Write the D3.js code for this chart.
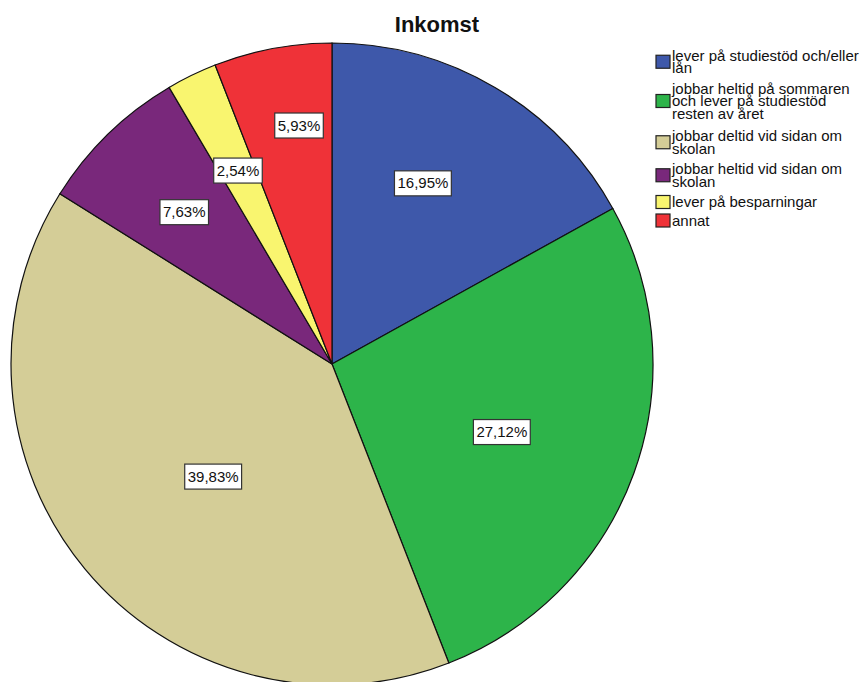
<!DOCTYPE html>
<html>
<head>
<meta charset="utf-8">
<script src="https://cdn.jsdelivr.net/npm/d3@7"></script>
<style>
  body { margin: 0; background: #fff; }
  text { font-family: Arial, "Liberation Sans", sans-serif; }
</style>
</head>
<body>
<script>
// data (clockwise from 12 o'clock)
var categories = [
  ["lever på studiestöd och/eller", "lån"],
  ["jobbar heltid på sommaren", "och lever på studiestöd", "resten av året"],
  ["jobbar deltid vid sidan om", "skolan"],
  ["jobbar heltid vid sidan om", "skolan"],
  ["lever på besparningar"],
  ["annat"]
];
var percents = [16.95, 27.12, 39.83, 7.63, 2.54, 5.93];
var colors = ["#3E58AA", "#2DB44A", "#D4CD97", "#79287B", "#F9F56F", "#EF3238"];
var title = "Inkomst";

// label placement: share of radius and angle nudge in degrees (layout only)
var labelRadius = [0.63, 0.57, 0.51, 0.66, 0.67, 0.75];
var labelNudge = [-3.8, 2, -3.8, 0, 0, 2.8];

var width = 863, height = 682;
var cx = 332, cy = 364, r = 321;

var svg = d3.select("body").append("svg")
    .attr("width", width)
    .attr("height", height);

svg.append("text")
    .attr("x", 437)
    .attr("y", 32)
    .attr("text-anchor", "middle")
    .attr("font-size", "22px")
    .attr("font-weight", "bold")
    .attr("fill", "#111")
    .text(title);

var pie = d3.pie().sort(null).value(function(d) { return d; });
var arcs = pie(percents);

var arc = d3.arc().innerRadius(0).outerRadius(r);

var g = svg.append("g").attr("transform", "translate(" + cx + "," + cy + ")");

g.selectAll("path")
  .data(arcs)
  .enter()
  .append("path")
  .attr("d", arc)
  .attr("fill", function(d, i) { return colors[i]; })
  .attr("stroke", "#111")
  .attr("stroke-width", 1.2);

// percent labels
var labels = g.selectAll("g.lbl")
  .data(arcs)
  .enter()
  .append("g")
  .attr("class", "lbl")
  .attr("transform", function(d, i) {
    var a = (d.startAngle + d.endAngle) / 2 + labelNudge[i] * Math.PI / 180;
    var lr = r * labelRadius[i];
    return "translate(" + (lr * Math.sin(a)) + "," + (-lr * Math.cos(a)) + ")";
  });

labels.each(function(d) {
  var sel = d3.select(this);
  var t = sel.append("text")
    .attr("text-anchor", "middle")
    .attr("y", 5)
    .attr("font-size", "15px")
    .attr("fill", "#111")
    .text(d3.format(".2f")(d.value).replace(".", ",") + "%");
  var bb = t.node().getBBox();
  sel.insert("rect", "text")
    .attr("x", bb.x - 3)
    .attr("y", -12.5)
    .attr("width", bb.width + 6)
    .attr("height", 25)
    .attr("fill", "#fff")
    .attr("stroke", "#333")
    .attr("stroke-width", 1.2);
});

// legend
var legend = svg.append("g");
var lineH = 12.5;
var y = 60.5;
categories.forEach(function(lines, i) {
  var n = lines.length;
  var mid = y + (n - 1) * lineH / 2 - 5;
  legend.append("rect")
    .attr("x", 656)
    .attr("y", mid - 6.5)
    .attr("width", 14)
    .attr("height", 13)
    .attr("fill", colors[i])
    .attr("stroke", "#222")
    .attr("stroke-width", 1.2);
  var t = legend.append("text")
    .attr("x", 672)
    .attr("y", y)
    .attr("font-size", "15px")
    .attr("fill", "#111");
  lines.forEach(function(l, k) {
    t.append("tspan")
      .attr("x", 672)
      .attr("y", y + k * lineH)
      .text(l);
  });
  y += n * 14.5 + 4;
});
</script>
</body>
</html>
